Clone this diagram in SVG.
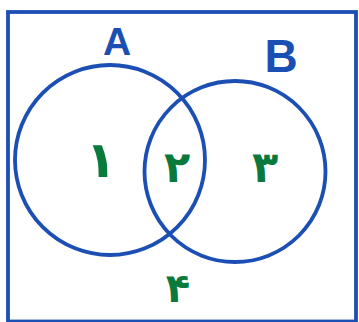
<svg xmlns="http://www.w3.org/2000/svg" width="359" height="322" viewBox="0 0 359 322">
<style>
.ln{fill:none;stroke:#1c4fb4;stroke-width:3.8}
.lab{fill:#1c4fb4;font-family:"Liberation Sans",Arial,sans-serif;font-weight:bold;text-anchor:middle}
.dg{fill:#0a7a3c;font-family:"DejaVu Sans",sans-serif;font-weight:bold;text-anchor:middle}
</style>
<rect width="359" height="322" fill="#ffffff"/>
<g id="universe">
<rect class="ln" x="8" y="12" width="348" height="309.5"/>
<text class="dg" x="178" y="302" font-size="40">۴</text>
</g>
<g id="setA">
<circle class="ln" cx="110" cy="160" r="95"/>
<text class="lab" x="117" y="55" font-size="39">A</text>
<text class="dg" x="101" y="177" font-size="50">۱</text>
</g>
<g id="setB">
<circle class="ln" cx="235" cy="171.5" r="90.5"/>
<text class="lab" x="281" y="72" font-size="46">B</text>
<text class="dg" x="265" y="182" font-size="43">۳</text>
</g>
<g id="intersection">
<text class="dg" x="177" y="182" font-size="43">۲</text>
</g>
</svg>
